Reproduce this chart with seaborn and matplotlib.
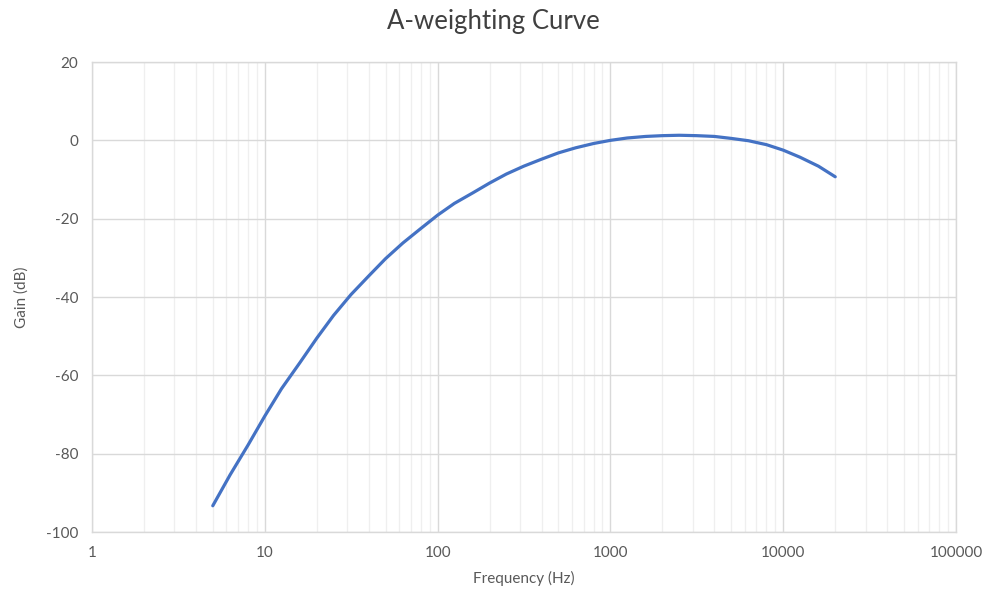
import pandas as pd
import seaborn as sns
import matplotlib.pyplot as plt
from matplotlib.ticker import LogLocator, FixedLocator, FixedFormatter, NullFormatter

# values (third-octave points)
freq = [5, 6.3, 8, 10, 12.5, 16, 20, 25, 31.5, 40, 50, 63, 80, 100, 125, 160,
        200, 250, 315, 400, 500, 630, 800, 1000, 1250, 1600, 2000, 2500, 3150,
        4000, 5000, 6300, 8000, 10000, 12500, 16000, 20000]
gain = [-93.3, -85.4, -77.8, -70.4, -63.4, -56.7, -50.5, -44.7, -39.4, -34.6,
        -30.2, -26.2, -22.5, -19.1, -16.1, -13.4, -10.9, -8.6, -6.6, -4.8,
        -3.2, -1.9, -0.8, 0.0, 0.6, 1.0, 1.2, 1.3, 1.2, 1.0, 0.5, -0.1, -1.1,
        -2.5, -4.3, -6.6, -9.3]
x_ticks = [1, 10, 100, 1000, 10000, 100000]
y_ticks = [-100, -80, -60, -40, -20, 0, 20]

df = pd.DataFrame({"freq": freq, "gain": gain})

sns.set_style("white")
plt.rcParams["font.family"] = ["Lato", "DejaVu Sans"]
plt.rcParams["axes.unicode_minus"] = False

fig = plt.figure(figsize=(9.87, 6.01), dpi=100)
ax = fig.add_axes([0.0932, 0.1148, 0.8754, 0.782])

sns.lineplot(data=df, x="freq", y="gain", ax=ax, color="#4472C4", linewidth=2.3)

ax.set_xscale("log")
ax.set_xlim(1, 100000)
ax.set_ylim(-100, 20)
ax.xaxis.set_major_locator(FixedLocator(x_ticks))
ax.xaxis.set_major_formatter(FixedFormatter([str(t) for t in x_ticks]))
ax.xaxis.set_minor_locator(LogLocator(base=10, subs=range(2, 10), numticks=20))
ax.xaxis.set_minor_formatter(NullFormatter())
ax.set_yticks(y_ticks)

ax.grid(which="major", color="#D9D9D9", linewidth=1.0)
ax.grid(which="minor", axis="x", color="#EFEFEF", linewidth=0.9)
ax.set_axisbelow(True)
for s in ax.spines.values():
    s.set_color("#D9D9D9")
    s.set_linewidth(1.0)
ax.tick_params(which="both", length=0, labelsize=11, labelcolor="#595959", pad=10)

ax.set_xlabel("Frequency (Hz)", fontsize=11, color="#595959", labelpad=8)
ax.set_ylabel("Gain (dB)", fontsize=11, color="#595959", labelpad=12)
fig.text(0.5, 0.965, "A-weighting Curve", ha="center", va="center",
         fontsize=18.5, color="#404040")

fig.savefig("out.png", dpi=100)
